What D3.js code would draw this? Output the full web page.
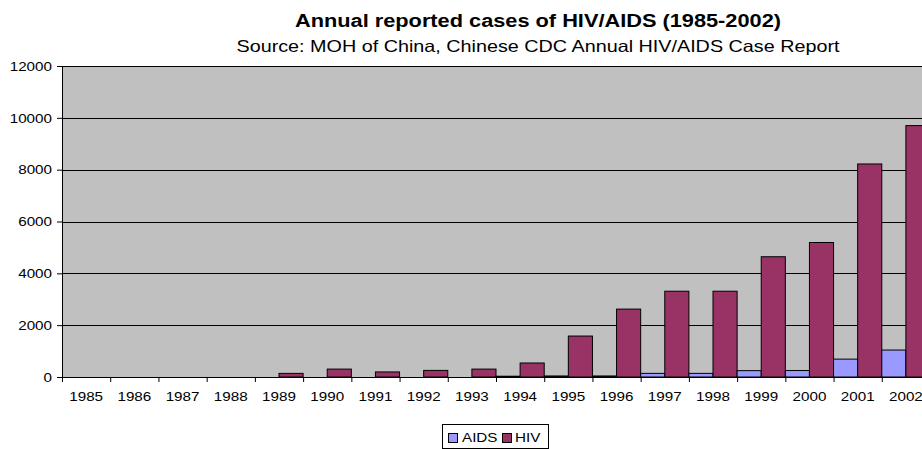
<!DOCTYPE html>
<html>
<head>
<meta charset="utf-8">
<script src="https://cdn.jsdelivr.net/npm/d3@7"></script>
<style>
  body { margin: 0; background: #fff; }
  svg { display: block; font-family: "Liberation Sans", Arial, sans-serif; }
</style>
</head>
<body>
<svg width="922" height="449"></svg>
<script>
const years = ["1985","1986","1987","1988","1989","1990","1991","1992","1993",
               "1994","1995","1996","1997","1998","1999","2000","2001","2002"];
const seriesNames = ["AIDS", "HIV"];
const aids = [0, 0, 0, 0, 0, 0, 0, 0, 0, 30, 40, 40, 140, 140, 245, 250, 690, 1040];
const hiv = [0, 0, 0, 0, 140, 305, 195, 255, 305, 540, 1580, 2620, 3310, 3310, 4640, 5190, 8220, 9700];
const yTicks = [0, 2000, 4000, 6000, 8000, 10000, 12000];
const colors = { AIDS: "#9999ff", HIV: "#993366" };

const margin = { top: 66, right: -8, bottom: 72, left: 62 };
const width = 922 - margin.left - margin.right;
const height = 449 - margin.top - margin.bottom;

// the original picture is a bit wider than tall, so stretch text sideways
const stretch = 1.17;
function widen(sel, k) {
    sel.each(function() {
        const w = this.getComputedTextLength();
        d3.select(this)
            .attr("textLength", w * k)
            .attr("lengthAdjust", "spacingAndGlyphs");
    });
}

const svg = d3.select("svg");

const rows = years.map((y, i) => ({ year: y, AIDS: aids[i], HIV: hiv[i] }));

const x = d3.scaleBand()
    .domain(years)
    .range([0, width])
    .padding(0);

const xSub = d3.scaleBand()
    .domain(seriesNames)
    .range([0, x.bandwidth()])
    .padding(0);

const y = d3.scaleLinear()
    .domain([0, 12000])
    .range([height, 0]);

const g = svg.append("g")
    .attr("transform", `translate(${margin.left},${margin.top})`);

// plot background
g.append("rect")
    .attr("x", 0)
    .attr("y", 0)
    .attr("width", width)
    .attr("height", height)
    .attr("fill", "#c0c0c0");

// gridlines
g.selectAll(".grid")
    .data(yTicks.filter(d => d > 0))
    .enter().append("line")
    .attr("x1", 0)
    .attr("x2", width)
    .attr("y1", d => Math.round(y(d)) + 0.5)
    .attr("y2", d => Math.round(y(d)) + 0.5)
    .attr("stroke", "#000")
    .attr("stroke-width", 1);

// bars
const groups = g.selectAll(".year")
    .data(rows)
    .enter().append("g")
    .attr("transform", d => `translate(${x(d.year)},0)`);

groups.selectAll("rect")
    .data(d => seriesNames.map(k => ({ key: k, value: d[k] })))
    .enter().append("rect")
    .attr("x", d => xSub(d.key))
    .attr("y", d => y(d.value))
    .attr("width", xSub.bandwidth())
    .attr("height", d => height - y(d.value))
    .attr("fill", d => colors[d.key])
    .attr("stroke", "#000")
    .attr("stroke-width", 1);

// y axis
const yAxis = d3.axisLeft(y)
    .tickValues(yTicks)
    .tickFormat(d3.format("d"))
    .tickSize(5)
    .tickSizeOuter(0)
    .tickPadding(5);

const ya = g.append("g").call(yAxis);
ya.selectAll("text").style("font-size", "13px").attr("fill", "#000");
ya.select(".domain").attr("stroke", "#000");
widen(ya.selectAll("text"), stretch);

// x axis (labels centred, ticks at category boundaries)
const xAxis = d3.axisBottom(x)
    .tickSize(0)
    .tickPadding(15);

const xa = g.append("g")
    .attr("transform", `translate(0,${height})`)
    .call(xAxis);
xa.selectAll("text").style("font-size", "13px").attr("fill", "#000");
xa.select(".domain").attr("stroke", "#000");
widen(xa.selectAll("text"), stretch);

xa.selectAll(".bound")
    .data(years)
    .enter().append("line")
    .attr("x1", d => x(d) + 0.5)
    .attr("x2", d => x(d) + 0.5)
    .attr("y1", 0)
    .attr("y2", 5)
    .attr("stroke", "#000");

// titles
const title = svg.append("text")
    .attr("x", 538)
    .attr("y", 27)
    .attr("text-anchor", "middle")
    .style("font-size", "18px")
    .style("font-weight", "bold")
    .text("Annual reported cases of HIV/AIDS (1985-2002)")
    .attr("textLength", 486)
    .attr("lengthAdjust", "spacingAndGlyphs");

const sub = svg.append("text")
    .attr("x", 538)
    .attr("y", 52)
    .attr("text-anchor", "middle")
    .style("font-size", "16.5px")
    .text("Source: MOH of China, Chinese CDC Annual HIV/AIDS Case Report")
    .attr("textLength", 603)
    .attr("lengthAdjust", "spacingAndGlyphs");

// legend
const legend = svg.append("g").attr("transform", "translate(442,424)");

legend.append("rect")
    .attr("x", 0.5)
    .attr("y", 0.5)
    .attr("width", 106)
    .attr("height", 24)
    .attr("fill", "#fff")
    .attr("stroke", "#000");

const items = [
    { name: "AIDS", sx: 6, tx: 20 },
    { name: "HIV", sx: 60, tx: 73 }
];

items.forEach(it => {
    legend.append("rect")
        .attr("x", it.sx + 0.5)
        .attr("y", 9.5)
        .attr("width", 9)
        .attr("height", 9)
        .attr("fill", colors[it.name])
        .attr("stroke", "#000");
    const t = legend.append("text")
        .attr("x", it.tx)
        .attr("y", 18)
        .style("font-size", "13px")
        .text(it.name);
    widen(t, stretch);
});
</script>
</body>
</html>
